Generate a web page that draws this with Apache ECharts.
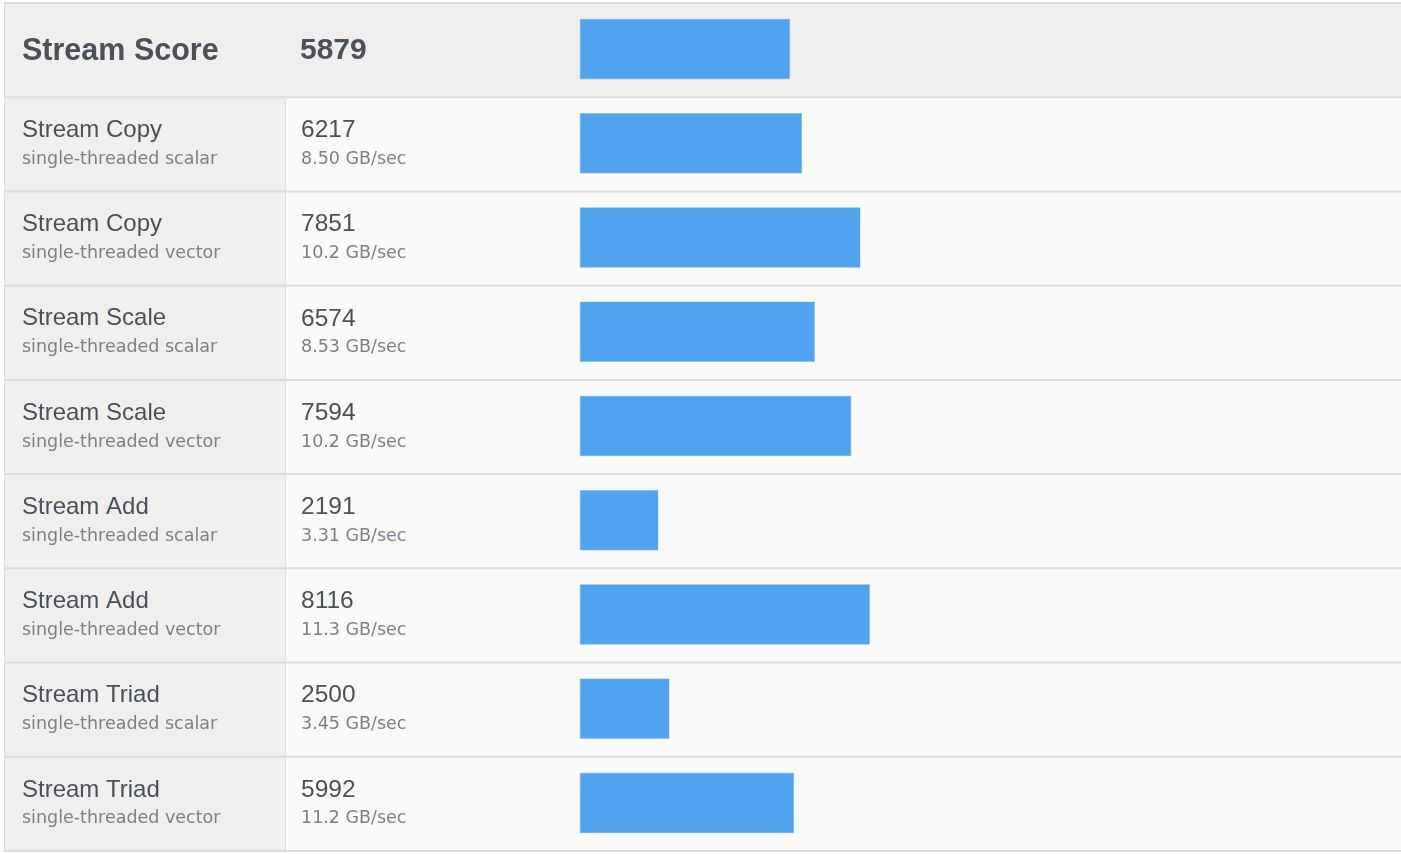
<!DOCTYPE html>
<html>
<head>
<meta charset="UTF-8">
<title>Stream Score</title>
<style>
  html, body { margin: 0; padding: 0; background: #ffffff; }
  #main { width: 1401px; height: 854px; }
</style>
</head>
<body>
<div id="main"></div>
<script src="https://cdn.jsdelivr.net/npm/echarts@6/dist/echarts.min.js"></script>
<script>
// rows: first one is the overall score (header row)
var names = ['Stream Score', 'Stream Copy', 'Stream Copy', 'Stream Scale', 'Stream Scale',
             'Stream Add', 'Stream Add', 'Stream Triad', 'Stream Triad'];
var kinds = ['', 'single-threaded scalar', 'single-threaded vector', 'single-threaded scalar',
             'single-threaded vector', 'single-threaded scalar', 'single-threaded vector',
             'single-threaded scalar', 'single-threaded vector'];
var scores = [5879, 6217, 7851, 6574, 7594, 2191, 8116, 2500, 5992];
var rates = ['', '8.50 GB/sec', '10.2 GB/sec', '8.53 GB/sec', '10.2 GB/sec',
             '3.31 GB/sec', '11.3 GB/sec', '3.45 GB/sec', '11.2 GB/sec'];

var FONT = '"Liberation Sans", Arial, Helvetica, sans-serif';
var SUBFONT = '"DejaVu Sans", Verdana, sans-serif';
var rowIdx = names.map(function (n, i) { return i; });

var myChart = echarts.init(document.getElementById('main'));

// 表格背景和文字
function renderRow(params, api) {
  var i = api.value(1);
  var cs = params.coordSys;
  var cy = api.coord([0, i])[1];
  var h = api.size([0, 1])[1];
  var top = cy - h / 2;
  var left = cs.x, right = cs.x + cs.width;
  var divX = 285;
  var kids = [];
  if (i === 0) {
    kids.push({ type: 'rect', shape: { x: left, y: top, width: right - left, height: h },
      style: { fill: '#efefef' } });
    kids.push({ type: 'text', style: { text: names[i], x: 22, y: cy + 1, fill: '#4b5158',
      font: 'bold 30.5px ' + FONT, textVerticalAlign: 'middle' } });
    kids.push({ type: 'text', style: { text: String(scores[i]), x: 300, y: cy + 1, fill: '#4b5158',
      font: 'bold 30px ' + FONT, textVerticalAlign: 'middle' } });
  } else {
    kids.push({ type: 'rect', shape: { x: left, y: top, width: divX - left, height: h },
      style: { fill: '#efefef' } });
    kids.push({ type: 'rect', shape: { x: divX, y: top, width: right - divX, height: h },
      style: { fill: '#fafaf9' } });
    kids.push({ type: 'line', shape: { x1: divX + 0.5, y1: top, x2: divX + 0.5, y2: top + h },
      style: { stroke: '#dddddd', lineWidth: 1 } });
    kids.push({ type: 'text', style: { text: names[i], x: 22, y: cy - 14, fill: '#4b5158',
      font: '24px ' + FONT, textVerticalAlign: 'middle' } });
    kids.push({ type: 'text', style: { text: kinds[i], x: 22, y: cy + 15, fill: '#7d8186',
      font: '17.5px ' + SUBFONT, textVerticalAlign: 'middle' } });
    kids.push({ type: 'text', style: { text: String(scores[i]), x: 301, y: cy - 14, fill: '#4b5158',
      font: '24.5px ' + FONT, textVerticalAlign: 'middle' } });
    kids.push({ type: 'text', style: { text: rates[i], x: 301, y: cy + 15, fill: '#7d8186',
      font: '17.5px ' + SUBFONT, textVerticalAlign: 'middle' } });
  }
  // 行分隔线
  kids.push({ type: 'line', shape: { x1: left, y1: top, x2: right, y2: top },
    style: { stroke: '#dcdcdc', lineWidth: 2 } });
  if (i === names.length - 1) {
    kids.push({ type: 'line', shape: { x1: left, y1: top + h, x2: right, y2: top + h },
      style: { stroke: '#dcdcdc', lineWidth: 2 } });
  }
  kids.push({ type: 'line', shape: { x1: left + 0.5, y1: top, x2: left + 0.5, y2: top + h },
    style: { stroke: '#dddddd', lineWidth: 1 } });
  return { type: 'group', children: kids };
}

var option = {
  animation: false,
  backgroundColor: '#ffffff',
  grid: [
    { left: 4, right: 0, top: 3, height: 848 },
    { left: 580, right: 0, top: 2, height: 848 }
  ],
  xAxis: [
    { gridIndex: 0, type: 'value', min: 0, max: 1, show: false },
    { gridIndex: 1, type: 'value', min: 0, max: 23000, show: false }
  ],
  yAxis: [
    { gridIndex: 0, type: 'category', data: rowIdx, inverse: true, show: false },
    { gridIndex: 1, type: 'category', data: rowIdx, inverse: true, show: false }
  ],
  series: [
    {
      type: 'custom',
      xAxisIndex: 0,
      yAxisIndex: 0,
      renderItem: renderRow,
      encode: { x: 0, y: 1 },
      data: rowIdx.map(function (i) { return [0, i]; }),
      silent: true,
      z: 1
    },
    {
      type: 'bar',
      xAxisIndex: 1,
      yAxisIndex: 1,
      data: scores,
      barWidth: 60,
      itemStyle: { color: '#52a3ee', borderColor: '#6fb2f0', borderWidth: 0.5 },
      silent: true,
      z: 3
    }
  ]
};
myChart.setOption(option);
</script>
</body>
</html>
